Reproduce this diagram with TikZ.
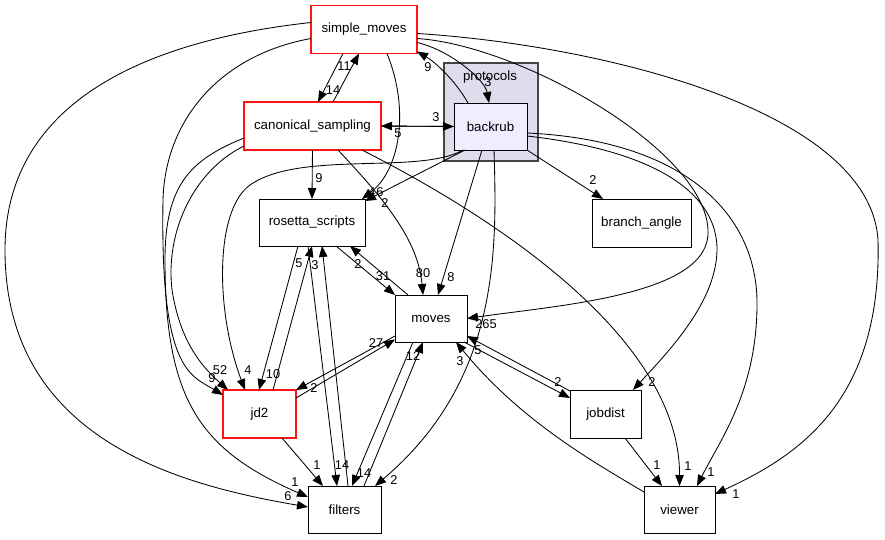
\documentclass[tikz,border=0pt]{standalone}
\usepackage{fontspec}
\setmainfont{Liberation Sans}
\usetikzlibrary{arrows.meta,calc}
\definecolor{nodered}{RGB}{255,20,20}
\definecolor{clfill}{RGB}{221,221,238}
\definecolor{brfill}{RGB}{238,238,255}
\definecolor{clborder}{RGB}{68,68,68}
\begin{document}
\begin{tikzpicture}[x=1pt,y=-1pt,
  box/.style={draw=black, line width=0.9pt, fill=white, inner sep=0pt, outer sep=0pt,
    font=\fontsize{13.3}{15}\selectfont},
  redbox/.style={box, draw=nodered, line width=1.05pt},
  clusterbox/.style={draw=clborder, line width=1.3pt, fill=clfill, inner sep=0pt, outer sep=0pt},
  dep/.style={-{Triangle[length=11pt,width=8.5pt]}, line width=0.85pt},
  lbl/.style={font=\fontsize{12.8}{14}\selectfont, inner sep=0pt}]
\useasboundingbox (0,0) rectangle (885,540);
\fill[white] (0,0) rectangle (885,540);
% cluster
\node[clusterbox, minimum width=94, minimum height=98] (prot) at (491,112) {};
\node[lbl, font=\fontsize{13.3}{15}\selectfont] (protlbl) at (490,77) {protocols};
% nodes
\node[redbox, minimum width=106, minimum height=48] (sm) at (364,29.5) {simple\_moves};
\node[redbox, minimum width=137, minimum height=48] (cs) at (312.5,126) {canonical\_sampling};
\node[box, fill=brfill, minimum width=73, minimum height=47] (br) at (490.5,126.5) {backrub};
\node[box, minimum width=106, minimum height=47] (rs) at (312,222.5) {rosetta\_scripts};
\node[box, minimum width=99, minimum height=48] (ba) at (641.5,223) {branch\_angle};
\node[box, minimum width=72, minimum height=47] (mv) at (431,318.5) {moves};
\node[redbox, minimum width=73, minimum height=48] (jd) at (259.5,414) {jd2};
\node[box, minimum width=71, minimum height=48] (jb) at (605.5,414) {jobdist};
\node[box, minimum width=73, minimum height=47] (fl) at (344.5,509.5) {filters};
\node[box, minimum width=71, minimum height=47] (vw) at (679.5,509.5) {viewer};
% edges
\draw[dep] ($(sm)+(-21,24)$) -- ($(cs)+(5.5,-24)$);
\draw[dep] ($(cs)+(20.5,-24)$) -- ($(sm)+(-5,24)$);
\draw[dep] ($(sm)+(53,13)$) .. controls (450,50) and (485,80) .. ($(br)+(-1.5,-23.5)$);
\draw[dep] ($(br)+(-22.5,-23.5)$) .. controls (455,80) and (435,62) .. ($(sm)+(53,22)$);
\draw[dep] (cs.east) -- (br.west);
\draw[dep] (br.west) -- (cs.east);
\draw[dep] (cs.south) -- (rs.north);
\draw[dep] ($(sm)+(23,24)$) .. controls (410,110) and (400,170) .. ($(rs)+(50,-23.5)$);
\draw[dep] ($(br)+(-25.5,23.5)$) -- ($(rs)+(53,-21.5)$);
\draw[dep] ($(cs)+(25.5,24)$) .. controls (385,200) and (418,240) .. ($(mv)+(-8,-23.5)$);
\draw[dep] ($(rs)+(24,23.5)$) -- (mv.north west);
\draw[dep] ($(mv)+(-23,-23.5)$) -- ($(rs)+(38,23.5)$);
\draw[dep] ($(br)+(-8.5,23.5)$) -- ($(mv)+(7,-23.5)$);
\draw[dep] ($(sm)+(53,9)$) .. controls (520,45) and (705,150) .. (708,230) .. controls (712,295) and (560,305) .. (mv.east);
\draw[dep] ($(sm)+(53,4)$) .. controls (600,45) and (870,110) .. (878,240) .. controls (882,400) and (800,455) .. ($(vw)+(35.5,-15.5)$);
\draw[dep] ($(sm)+(-53,-7)$) .. controls (150,40) and (5,100) .. (5,250) .. controls (5,440) and (180,485) .. ($(fl)+(-36.5,-2.5)$);
\draw[dep] ($(sm)+(-53,9)$) .. controls (220,55) and (165,120) .. (163,200) .. controls (160,370) and (190,375) .. ($(jd)+(-36.5,-19)$);
\draw[dep] ($(cs)+(-68.5,20)$) .. controls (195,170) and (165,230) .. (172,290) .. controls (180,340) and (200,365) .. ($(jd)+(-31.5,-24)$);
\draw[dep] ($(cs)+(-68.5,12)$) .. controls (190,160) and (165,185) .. (165,260) .. controls (165,400) and (200,450) .. ($(fl)+(-36.5,-12.5)$);
\draw[dep] ($(br)+(-27.5,23.5)$) .. controls (420,175) and (300,150) .. (250,185) .. controls (215,210) and (215,310) .. ($(jd)+(-14.5,-24)$);
\draw[dep] ($(rs)+(-14,23.5)$) -- ($(jd)+(-0.5,-24)$);
\draw[dep] ($(jd)+(13.5,-24)$) -- ($(rs)+(0,23.5)$);
\draw[dep] ($(rs)+(-4,23.5)$) -- ($(fl)+(-7.5,-23.5)$);
\draw[dep] ($(fl)+(3.5,-23.5)$) -- ($(rs)+(10,23.5)$);
\draw[dep] ($(jd)+(36.5,-16)$) -- ($(mv)+(-36,21)$);
\draw[dep] ($(mv)+(-36,17.5)$) -- ($(jd)+(36.5,-24)$);
\draw[dep] ($(mv)+(-18,23.5)$) -- ($(fl)+(7.5,-23.5)$);
\draw[dep] ($(fl)+(19.5,-23.5)$) -- ($(mv)+(-8,23.5)$);
\draw[dep] ($(jd)+(22.5,24)$) -- ($(fl)+(-21.5,-23.5)$);
\draw[dep] ($(br)+(3.5,23.5)$) .. controls (497,250) and (500,380) .. ($(fl)+(30.5,-23.5)$);
\draw[dep] ($(vw)+(-35.5,-17.5)$) .. controls (590,460) and (520,420) .. ($(mv)+(25,23.5)$);
\draw[dep] ($(mv)+(33,23.5)$) -- ($(jb)+(-35.5,-16)$);
\draw[dep] ($(jb)+(-35.5,-23)$) -- ($(mv)+(36,17.5)$);
\draw[dep] ($(jb)+(19.5,24)$) -- ($(vw)+(-17.5,-23.5)$);
\draw[dep] ($(cs)+(49.5,24)$) .. controls (500,220) and (680,340) .. ($(vw)+(0,-23.5)$);
\draw[dep] ($(br)+(36.5,6.5)$) .. controls (680,140) and (755,210) .. (757,300) .. controls (758,390) and (720,440) .. ($(vw)+(17.5,-23.5)$);
\draw[dep] ($(br)+(36.5,9.5)$) .. controls (650,150) and (715,190) .. (717,247) .. controls (718,300) and (670,350) .. ($(jb)+(27.5,-24)$);
\draw[dep] ($(br)+(36.5,23.5)$) -- ($(ba)+(-38.5,-24)$);
% labels
\node[lbl] (l1) at (333,90) {14};
\node[lbl] (l2) at (344,66) {11};
\node[lbl] (l3) at (488,82) {3};
\node[lbl] (l4) at (428,67) {9};
\node[lbl] (l5) at (436,117) {3};
\node[lbl] (l6) at (398,133) {5};
\node[lbl] (l7) at (319,178) {9};
\node[lbl] (l8) at (372,192) {4};
\node[lbl] (l9) at (380,192) {6};
\node[lbl] (l10) at (385,203) {2};
\node[lbl] (l11) at (299,263) {5};
\node[lbl] (l12) at (315,265) {3};
\node[lbl] (l13) at (358,264) {2};
\node[lbl] (l14) at (383,276) {31};
\node[lbl] (l15) at (423,273) {80};
\node[lbl] (l16) at (451,277) {8};
\node[lbl] (l17) at (593,180) {2};
\node[lbl] (l18) at (486,324) {265};
\node[lbl] (l19) at (376,343) {27};
\node[lbl] (l20) at (413,356) {12};
\node[lbl] (l21) at (460,361) {3};
\node[lbl] (l22) at (478,350) {5};
\node[lbl] (l23) at (558,382) {2};
\node[lbl] (l24) at (652,382) {2};
\node[lbl] (l25) at (220,370) {52};
\node[lbl] (l26) at (212,378) {9};
\node[lbl] (l27) at (248,370) {4};
\node[lbl] (l28) at (273,374) {10};
\node[lbl] (l29) at (314,388) {2};
\node[lbl] (l30) at (317,465) {1};
\node[lbl] (l31) at (342,465) {14};
\node[lbl] (l32) at (364,473) {14};
\node[lbl] (l33) at (394,480) {2};
\node[lbl] (l34) at (295,482) {1};
\node[lbl] (l35) at (288,496) {6};
\node[lbl] (l36) at (657,465) {1};
\node[lbl] (l37) at (688,466) {1};
\node[lbl] (l38) at (711,472) {1};
\node[lbl] (l39) at (736,494) {1};
\end{tikzpicture}
\end{document}
